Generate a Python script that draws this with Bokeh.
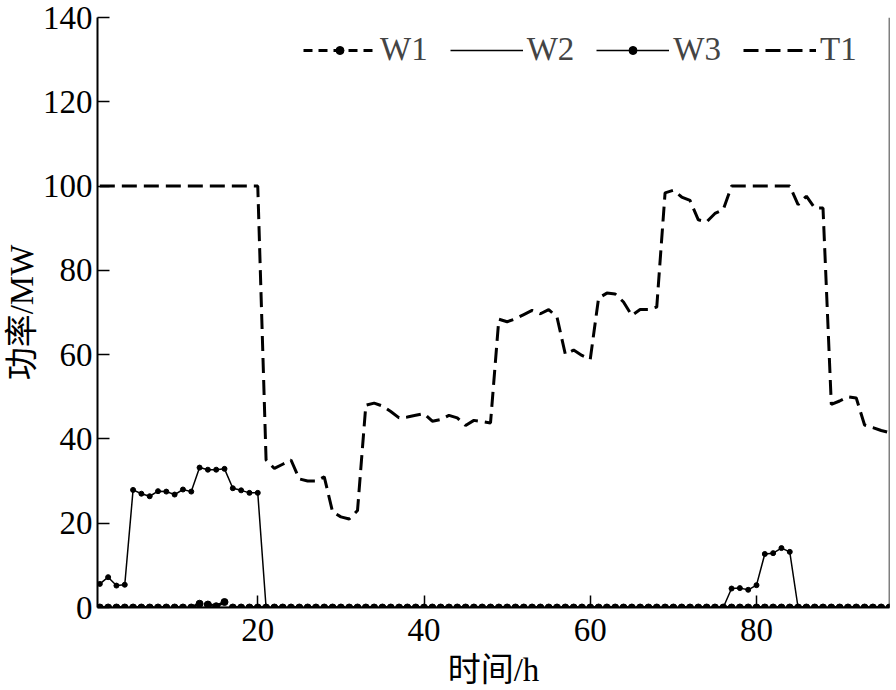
from bokeh.plotting import figure
from bokeh.models import Legend, LegendItem, Span, FixedTicker, Range1d
from bokeh.embed import file_html
from bokeh.resources import INLINE

hours = list(range(1, 97))

W1 = [0] * 12 + [0.9, 0.7, 0.3, 1.3] + [0] * 80
W2 = [0] * 96
W3 = ([5.6, 7.2, 5.2, 5.4, 27.9, 27.0, 26.4, 27.6, 27.5, 26.8,
       28.0, 27.5, 33.2, 32.7, 32.7, 32.9, 28.3, 27.8, 27.2, 27.2]
      + [0] * 56
      + [4.5, 4.6, 4.2, 5.3, 12.7, 12.9, 14.1, 13.2]
      + [0] * 12)
T1 = ([100] * 20
      + [35, 33, 34, 35, 30.5, 30, 30, 31, 22.7, 21.5,
         21, 23, 48, 48.5, 47.8, 46.5, 45, 45.2, 45.6, 46,
         44.2, 44.6, 45.6, 45, 43.2, 44.4, 44.1, 43.8, 68.4, 67.8,
         68.5, 69.5, 70.5, 69.7, 70.7, 68.9, 60.1, 61.1, 59.8, 58.9,
         73.4, 74.6, 74.4, 72.5, 69.3, 70.7, 70.7, 71.3, 98.4, 99,
         97.4, 96.6, 92, 91.5, 93.5, 94.4, 100, 100, 100, 100,
         100, 100, 100, 100, 95.6, 97.6, 94.8, 94.8, 48.2, 49,
         50, 49.7, 43.3, 42.7, 42, 41.5])

x_ticks = [20, 40, 60, 80]
y_ticks = [0, 20, 40, 60, 80, 100, 120, 140]

FONT = "'Liberation Serif', 'Noto Sans CJK SC', serif"
FS = "33px"

p = figure(width=896, height=690, output_backend="svg", toolbar_location=None,
           x_range=Range1d(0.72, 96), y_range=Range1d(0, 140),
           min_border_left=97, min_border_right=7, min_border_top=17, min_border_bottom=82)
p.xgrid.visible = False
p.ygrid.visible = False
p.outline_line_color = None
p.background_fill_color = "white"

t1 = p.line(hours, T1, line_color="black", line_width=3, line_dash="15 7")
w2 = p.line(hours, W2, line_color="black", line_width=1.5)
w3l = p.line(hours, W3, line_color="black", line_width=1.5)
w3m = p.scatter(hours, W3, marker="circle", size=5, fill_color="black", line_color="black")
w1l = p.line(hours, W1, line_color="black", line_width=3, line_dash="9 6")
w1m = p.scatter(hours, W1, marker="circle", size=7, fill_color="black", line_color="black")

p.add_layout(Span(location=96, dimension="height", line_color="black", line_width=1.5))

for ax in (p.xaxis[0], p.yaxis[0]):
    ax.major_tick_in = 12
    ax.major_tick_out = 0
    ax.minor_tick_line_color = None
    ax.axis_line_width = 2
    ax.major_tick_line_width = 1.5
    ax.major_label_text_font = FONT
    ax.major_label_text_font_size = FS
    ax.major_label_text_color = "black"
    ax.axis_label_text_font = FONT
    ax.axis_label_text_font_size = FS
    ax.axis_label_text_font_style = "normal"
    ax.axis_label_text_color = "black"

p.xaxis.ticker = FixedTicker(ticks=x_ticks)
p.yaxis.ticker = FixedTicker(ticks=y_ticks)
p.xaxis.axis_label = "时间/h"
p.yaxis.axis_label = "功率/MW"
p.xaxis.major_label_standoff = 11
p.yaxis.major_label_standoff = 5
p.xaxis.axis_label_standoff = 8
p.yaxis.axis_label_standoff = 0

legend = Legend(items=[
    LegendItem(label="W1", renderers=[w1l, w1m]),
    LegendItem(label="W2", renderers=[w2]),
    LegendItem(label="W3", renderers=[w3l, w3m]),
    LegendItem(label="T1", renderers=[t1]),
], orientation="horizontal", location=(206, 539),
    background_fill_alpha=0, border_line_color=None,
    label_text_font=FONT, label_text_font_size=FS,
    glyph_width=73, glyph_height=20, label_standoff=4, spacing=22,
    padding=4, margin=0)
p.add_layout(legend)

open("out.html", "w").write(file_html(p, INLINE))
